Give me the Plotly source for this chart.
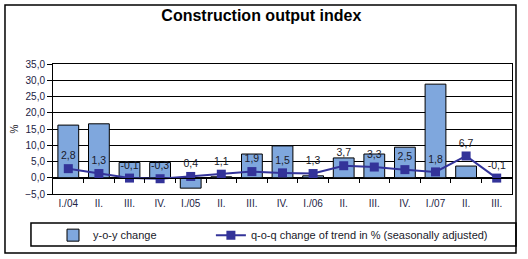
import plotly.graph_objs as go

quarters = ["I./04", "II.", "III.", "IV.", "I./05", "II.", "III.", "IV.",
            "I./06", "II.", "III.", "IV.", "I./07", "II.", "III."]
yoy = [16.2, 16.6, 4.7, 4.7, -3.2, 0.3, 7.3, 9.8, 0.6, 6.1, 7.3, 9.4, 28.8, 3.6, None]
qoq = [2.8, 1.3, -0.1, -0.3, 0.4, 1.1, 1.9, 1.5, 1.3, 3.7, 3.3, 2.5, 1.8, 6.7, -0.1]

xs = list(range(len(quarters)))
FONT = "Liberation Sans, Arial, sans-serif"

fig = go.Figure()
fig.add_trace(go.Bar(x=xs, y=yoy, name="y-o-y change", width=0.68, legend="legend",
                     marker=dict(color="#7fa7dd", line=dict(color="black", width=1))))
fig.add_trace(go.Scatter(x=xs, y=qoq, name="q-o-q change of trend in % (seasonally adjusted)",
                         mode="lines+markers+text", legend="legend2",
                         line=dict(color="#333399", width=2),
                         marker=dict(symbol="square", size=9, color="#333399"),
                         texttemplate="%{y:.1f}", textposition="top center",
                         textfont=dict(size=10.5, color="#1a1a2a", family=FONT)))
# zero-line axis with ticks between categories
fig.add_trace(go.Scatter(x=[None], y=[None], xaxis="x2", showlegend=False, hoverinfo="skip"))

leg = dict(orientation="h", y=-0.205, xanchor="left", yanchor="top",
           font=dict(size=11), bgcolor="rgba(0,0,0,0)")

fig.update_layout(
    width=528, height=259, separators=",.",
    margin=dict(l=53, r=16, t=64, b=65, autoexpand=False),
    paper_bgcolor="white", plot_bgcolor="white",
    font=dict(family=FONT, size=10, color="#1a1a2a"),
    title=dict(text="<b>Construction output index</b>", x=0.495, xref="container",
               xanchor="center", y=0.94, yanchor="middle",
               font=dict(size=16, color="black", family=FONT)),
    showlegend=True,
    legend=dict(leg, x=0.0),
    legend2=dict(leg, x=0.344),
    xaxis=dict(range=[-0.5, 14.5], tickvals=xs, ticktext=quarters, ticks="",
               showgrid=False, showline=True, linecolor="black", mirror=True,
               tickfont=dict(size=10, color="#222244"), zeroline=False),
    xaxis2=dict(overlaying="x", anchor="free", position=0.125, range=[-0.5, 14.5],
                tickvals=[i + 0.5 for i in xs[:-1]], showticklabels=False,
                ticks="outside", ticklen=4, tickcolor="black",
                showline=True, linecolor="black", linewidth=1, showgrid=False, zeroline=False),
    yaxis=dict(range=[-5, 35], dtick=5, tickformat=".1f", ticks="outside", ticklen=5,
               tickcolor="black", showgrid=True, gridcolor="black", gridwidth=1,
               showline=True, linecolor="black", mirror=True, zeroline=False,
               title=dict(text="%", standoff=4, font=dict(size=10)),
               tickfont=dict(size=10, color="#222244")),
    shapes=[
        dict(type="rect", xref="paper", yref="paper", x0=-0.1046, x1=1.0087,
             y0=-0.4538, y1=1.4538, line=dict(color="black", width=1.5)),
        dict(type="rect", xref="paper", yref="paper", x0=-0.048, x1=1.0087,
             y0=-0.223, y1=-0.4, line=dict(color="black", width=1.5)),
    ],
)

fig.write_html("out.html", config={"displayModeBar": False},
               post_script="document.body.style.margin='0px';")
